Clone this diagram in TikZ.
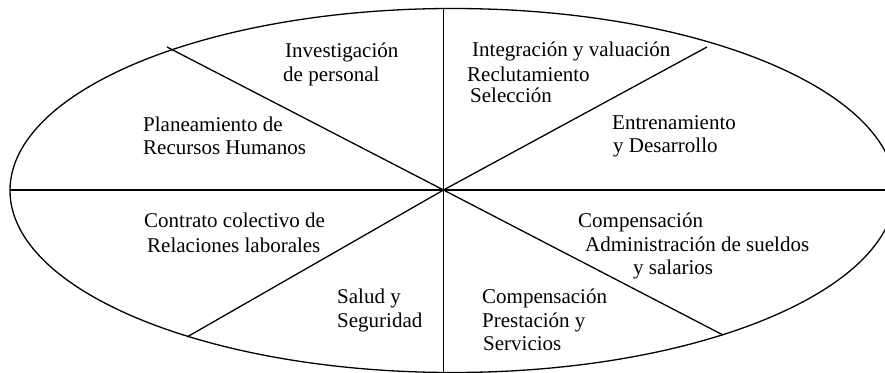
\documentclass[tikz,border=0pt]{standalone}
\usepackage{fontspec}
\setmainfont{Liberation Serif}
\begin{document}
\begin{tikzpicture}[x=1pt,y=1pt,
  ln/.style={line width=1.3pt,black},
  lbl/.style={anchor=base west,inner sep=0pt,font=\fontsize{21}{24}\selectfont}]
\useasboundingbox (0,0) rectangle (885,372);
\clip (0,0) rectangle (885,372);
% geometry
\coordinate (O) at (443.5,182);
\coordinate (E) at (452.7,181.5);
\coordinate (T) at (443.5,363.5);
\coordinate (B) at (443.5,-2);
\coordinate (L) at (10,182);
\coordinate (R) at (890,182);
\coordinate (A1) at (167,325);
\coordinate (A2) at (707,325);
\coordinate (A3) at (187,35);
\coordinate (A4) at (723,37);
\draw[ln] (E) ellipse [x radius=442.7, y radius=182];
\draw[ln] (T) -- (B);
\draw[ln] (L) -- (R);
\draw[ln] (A1) -- (O);
\draw[ln] (A2) -- (O);
\draw[ln] (A3) -- (O);
\draw[ln] (A4) -- (O);
% labels
\node[lbl] (inv1) at (285,314) {Investigación};
\node[lbl] (inv2) at (283,290) {de personal};
\node[lbl] (pla1) at (143,240) {Planeamiento de};
\node[lbl] (pla2) at (143,217) {Recursos Humanos};
\node[lbl] (int1) at (472,315) {Integración y valuación};
\node[lbl] (int2) at (467,290) {Reclutamiento};
\node[lbl] (int3) at (470,269) {Selección};
\node[lbl] (ent1) at (612,242) {Entrenamiento};
\node[lbl] (ent2) at (613,219) {y Desarrollo};
\node[lbl] (con1) at (144,144) {Contrato colectivo de};
\node[lbl] (con2) at (147,119) {Relaciones laborales};
\node[lbl] (sal1) at (337,69) {Salud y};
\node[lbl] (sal2) at (337,45) {Seguridad};
\node[lbl] (cmp1) at (578,144) {Compensación};
\node[lbl] (cmp2) at (585,120) {Administración de sueldos};
\node[lbl] (cmp3) at (633,97) {y salarios};
\node[lbl] (pre1) at (482,69) {Compensación};
\node[lbl] (pre2) at (482,45) {Prestación y};
\node[lbl] (pre3) at (483,22) {Servicios};
\end{tikzpicture}
\end{document}
